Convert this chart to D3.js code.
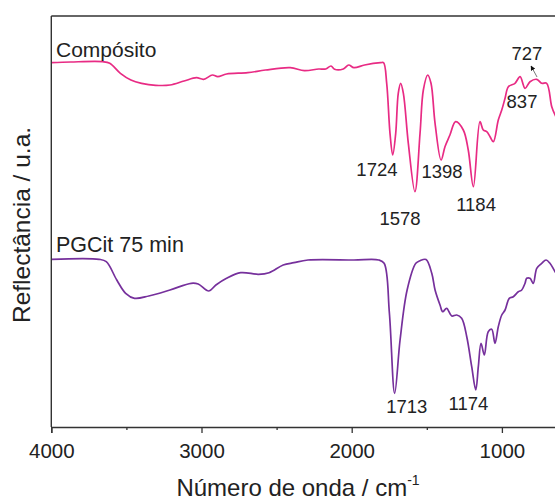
<!DOCTYPE html>
<html><head><meta charset="utf-8">
<script src="https://cdn.jsdelivr.net/npm/d3@7"></script>
<style>body{margin:0;background:#fff}svg{display:block}text{font-family:"Liberation Sans",Arial,sans-serif;fill:#222}</style>
</head><body><svg id="c" width="555" height="501"></svg>
<script>
// Wavenumber (cm-1) and reflectance (a.u.)
const compositoWn = [4000,3870,3658,3611,3540,3470,3399,3305,3210,3116,3034,2986,2927,2892,2833,2692,2574,2409,2315,2220,2173,2138,2114,2056,2020,1985,1914,1808,1788,1767,1745,1727,1707,1690,1674,1656,1623,1579,1545,1523,1494,1472,1445,1405,1379,1346,1308,1257,1224,1190,1146,1124,1101,1079,1057,1024,1001,979,957,913,879,846,813,768,735,702,668,646,620];
const compositoR  = [364.3,365,365.3,363.7,353.7,347,343.7,341.7,342,346,349.3,347.7,352,350.3,353,354.3,357,359.3,356.3,358,358,361,357.7,358,362,359.3,362,364.3,364.3,343.7,293.7,272,293.7,333.7,343.7,333.7,283.7,235.3,293.7,337,352,343.7,303.7,267,280.3,292,305.3,297,277,240.3,305.3,297,295.3,290.3,285.3,307,317,328.7,340.3,343.7,350.3,338.7,345.3,347.7,343.7,343.7,320.3,312,305];
const pgcitWn = [4000,3682,3634,3564,3505,3446,3351,3210,3069,3022,2951,2904,2833,2739,2621,2550,2456,2385,2291,1985,1820,1784,1749,1714,1678,1631,1573,1545,1505,1467,1445,1412,1394,1368,1334,1301,1268,1234,1201,1174,1157,1139,1117,1091,1068,1046,1024,1001,979,951,924,891,868,846,835,813,791,768,735,706,680,646,620];
const pgcitR  = [167.7,167.7,165.3,147,133.7,128.7,131,137,143.7,143,136,142,148.7,154.3,152.7,154.3,162,164.3,167,167,167,163.7,113.7,33.7,87,137,163.7,166.3,167.5,153.7,137,122,115.3,118.7,111,112,108.7,90.3,60.3,37,60.3,83.7,72,95.3,97.7,83.7,100.3,112,117,128.7,130.3,135.3,137,143.7,148.7,148.7,143.7,158.7,163.7,167,163.7,155.3,150];
const seriesNames = ["Compósito","PGCit 75 min"];
const xTicks = [4000,3000,2000,1000];
const xMinor = [3500,2500,1500,500];
// peak annotations: text, anchor wavenumber, anchor reflectance
const compLabels = [["1724",1832,251],["1578",1678,202],["1398",1399,249],["1184",1172,216],["837",866,319],["727",833,367]];
const pgLabels = [["1713",1633,14],["1174",1223,17]];
const arrow727 = [[766,350],[806,361]];

const svg = d3.select("#c");
const L = 51.3, T = 16, B = 427;
const x = d3.scaleLinear().domain([4000,400]).range([L, L + 3600*0.1502]);
const y = d3.scaleLinear().domain([0,411]).range([B, T]);

const pink = "#e82b84", purple = "#76309c";
const comp = compositoWn.map((w,i)=>[w,compositoR[i]]).reverse();
const pg = pgcitWn.map((w,i)=>[w,pgcitR[i]]).reverse();
const lineN = d3.line().x(d=>x(d[0])).y(d=>y(d[1])).curve(d3.curveCatmullRom.alpha(0.5));
svg.append("path").attr("d", lineN(comp)).attr("fill","none").attr("stroke",pink).attr("stroke-width",1.7);
svg.append("path").attr("d", lineN(pg)).attr("fill","none").attr("stroke",purple).attr("stroke-width",1.7);

// frame
svg.append("line").attr("x1",L).attr("x2",600).attr("y1",T).attr("y2",T).attr("stroke","#333").attr("stroke-width",1.4);
svg.append("line").attr("x1",L).attr("x2",L).attr("y1",T).attr("y2",B).attr("stroke","#333").attr("stroke-width",1.4);

// x axis
const ax = svg.append("g").attr("transform",`translate(0,${B})`)
  .call(d3.axisBottom(x).tickValues(xTicks).tickSize(6).tickPadding(10).tickFormat(d3.format("d")));
ax.select(".domain").attr("stroke","#333").attr("stroke-width",1.4);
ax.selectAll(".tick line").attr("stroke","#333").attr("stroke-width",1.3);
ax.selectAll(".tick text").style("font-size","20.5px").attr("fill","#222").style("font-family",'"Liberation Sans",Arial,sans-serif');
svg.append("g").attr("transform",`translate(0,${B})`)
  .call(d3.axisBottom(x).tickValues(xMinor).tickSize(3).tickFormat(""))
  .call(g=>{g.select(".domain").remove(); g.selectAll("line").attr("stroke","#333").attr("stroke-width",1.3);});

// titles
const xt = svg.append("text").attr("x",298).attr("y",496).attr("text-anchor","middle").style("font-size","24px");
xt.append("tspan").text("Número de onda / cm");
xt.append("tspan").text("-1").attr("dy",-11).style("font-size","14px");
svg.append("text").attr("transform","translate(30,225) rotate(-90)").attr("text-anchor","middle").style("font-size","24.5px").text("Reflectância / u.a.");

// series labels
svg.append("text").attr("x",56).attr("y",57).style("font-size","21px").text(seriesNames[0]);
svg.append("text").attr("x",56).attr("y",252).style("font-size","21.5px").text(seriesNames[1]);

// peak labels
[...compLabels, ...pgLabels].forEach(([t,w,r])=>{
  svg.append("text").attr("x",x(w)).attr("y",y(r)).attr("text-anchor","middle").style("font-size","18.5px").text(t);
});
// arrow
svg.append("defs").append("marker").attr("id","ah").attr("viewBox","0 0 10 10").attr("refX",9).attr("refY",5)
  .attr("markerWidth",6).attr("markerHeight",6).attr("orient","auto")
  .append("path").attr("d","M0,0L10,5L0,10z").attr("fill","#111");
svg.append("line").attr("x1",x(arrow727[0][0])).attr("y1",y(arrow727[0][1])).attr("x2",x(arrow727[1][0])).attr("y2",y(arrow727[1][1]))
  .attr("stroke","#555").attr("stroke-width",0.8).attr("marker-end","url(#ah)");
</script></body></html>
